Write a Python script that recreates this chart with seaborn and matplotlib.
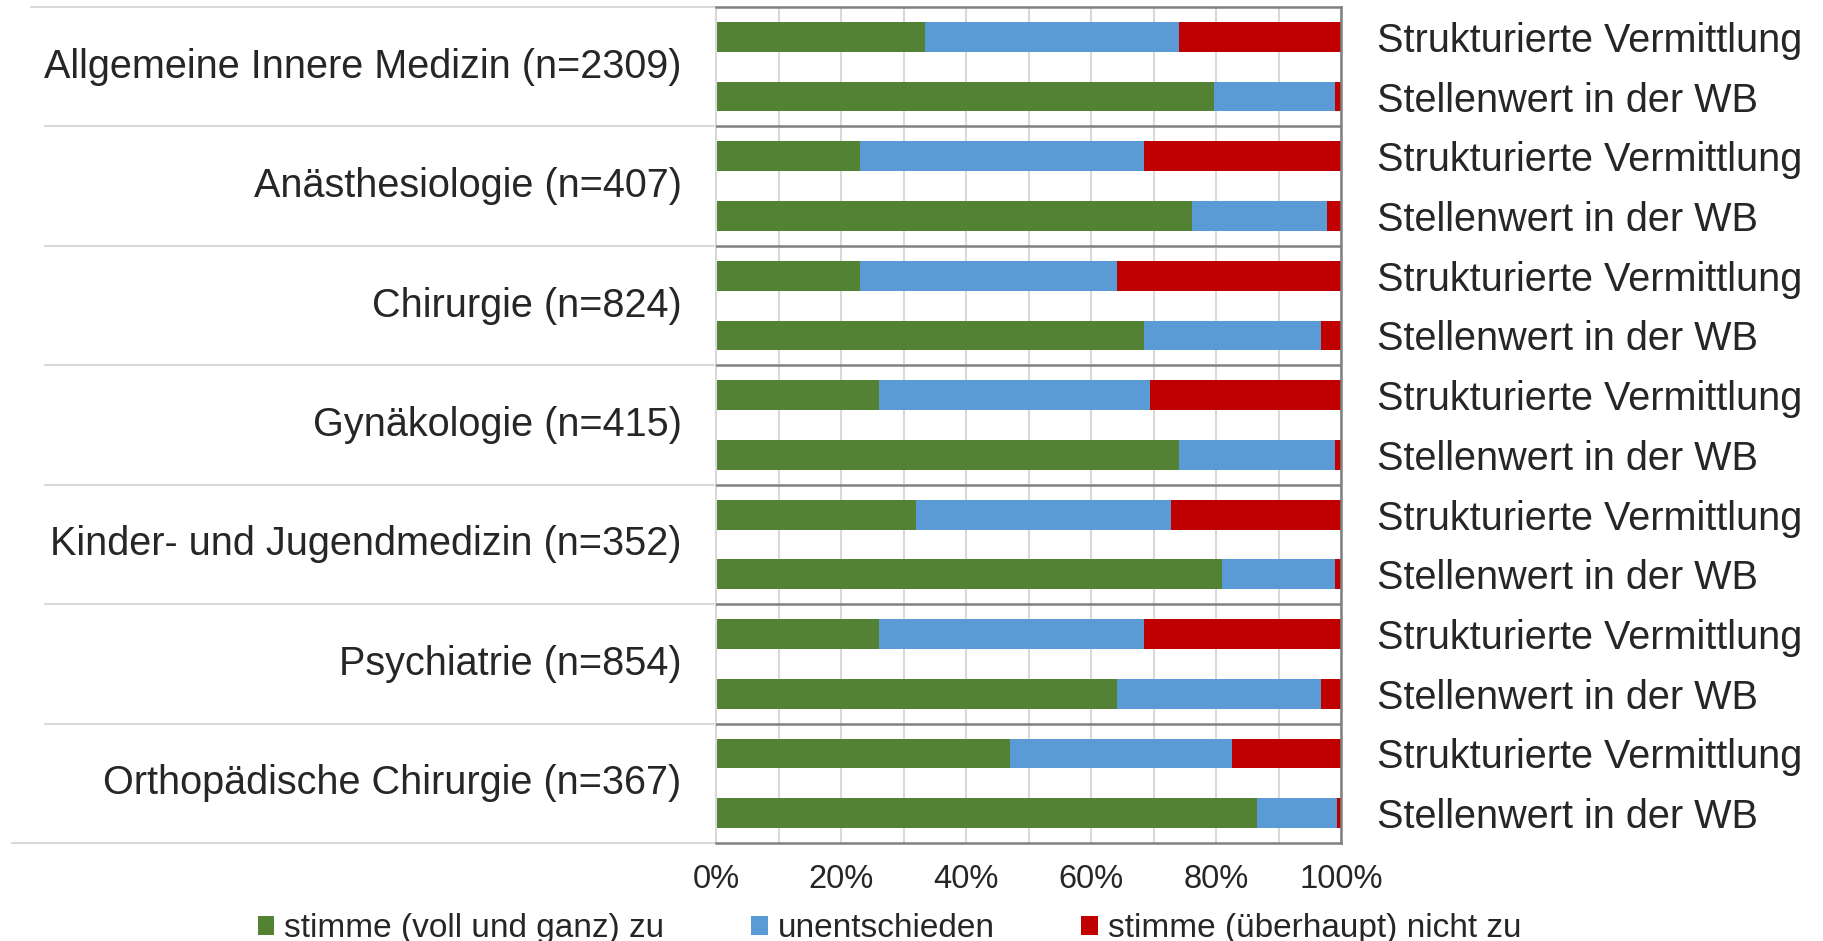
import numpy as np
import pandas as pd
import matplotlib
matplotlib.use("Agg")
import matplotlib.pyplot as plt
from matplotlib.patches import Patch
from matplotlib.lines import Line2D
import matplotlib.transforms as mtransforms
import seaborn as sns

# groups (left labels) and the two items per group (right labels)
groups = [
    "Allgemeine Innere Medizin (n=2309)",
    "Anästhesiologie (n=407)",
    "Chirurgie (n=824)",
    "Gynäkologie (n=415)",
    "Kinder- und Jugendmedizin (n=352)",
    "Psychiatrie (n=854)",
    "Orthopädische Chirurgie (n=367)",
]
items = ["Strukturierte Vermittlung", "Stellenwert in der WB"]

# percentages per bar, in order group1-SV, group1-SW, group2-SV, ...
agree = [33.4, 79.6, 23.0, 76.2, 23.0, 68.5, 26.0, 74.0, 32.0, 80.9, 26.0, 64.2, 47.0, 86.5]
neutral = [40.7, 19.4, 45.5, 21.5, 41.2, 28.3, 43.4, 25.0, 40.8, 18.1, 42.5, 32.6, 35.6, 12.8]
disagree = [25.9, 1.0, 31.5, 2.3, 35.8, 3.2, 30.6, 1.0, 27.2, 1.0, 31.5, 3.2, 17.4, 0.7]

legend_labels = ["stimme (voll und ganz) zu", "unentschieden", "stimme (überhaupt) nicht zu"]
colors = ["#548235", "#5B9BD5", "#C00000"]
xticks = [0, 20, 40, 60, 80, 100]

sns.set_style("white")
plt.rcParams['font.family'] = ['Liberation Sans', 'DejaVu Sans']

keys = [f"{g}_{i}" for g in range(len(groups)) for i in range(len(items))]
df = pd.DataFrame({
    'key': keys,
    'agree': agree,
    'neutral': neutral,
    'disagree': disagree,
})
df['c1'] = df['agree']
df['c2'] = df['agree'] + df['neutral']
df['c3'] = df['c2'] + df['disagree']

fig = plt.figure(figsize=(18.23, 9.41), dpi=100)
ax = fig.add_axes([716 / 1823, 1 - 843 / 941, 625 / 1823, 836 / 941])

# stacked bars drawn as overlapping cumulative bars
for col, c in zip(['c3', 'c2', 'c1'], colors[::-1]):
    sns.barplot(data=df, x=col, y='key', order=keys, color=c, orient='h',
                width=0.5, linewidth=0, saturation=1, ax=ax)

ax.set_xlim(0, 100)
ax.set_ylim(len(keys) - 0.5, -0.5)
ax.set_xlabel("")
ax.set_ylabel("")

# gridlines every 10 %, labels every 20 %
ax.set_xticks(xticks)
ax.set_xticklabels([f"{v}%" for v in xticks], fontsize=23.5)
ax.set_xticks(np.arange(10, 100, 20), minor=True)
ax.grid(axis='x', which='both', color='#d9d9d9', lw=1.5)
ax.set_axisbelow(True)
ax.tick_params(axis='x', which='both', length=0, pad=15)

# item labels on the right
ax.yaxis.tick_right()
ax.set_yticks(range(len(keys)))
ax.set_yticklabels(items * len(groups), fontsize=28.5)
ax.tick_params(axis='y', length=0, pad=26)

for side in ['top', 'right', 'bottom']:
    ax.spines[side].set_color('#808080')
    ax.spines[side].set_linewidth(1.8)
ax.spines['left'].set_color('#d9d9d9')
ax.spines['left'].set_linewidth(1.5)

# group separators
for k in range(1, len(groups)):
    ax.axhline(2 * k - 0.5, color='#808080', lw=1.8, zorder=3)

# group labels and category-axis lines on the left
trans = mtransforms.blended_transform_factory(ax.transAxes, ax.transData)
for k, g in enumerate(groups):
    ax.text(-0.055, 2 * k + 0.5, g, transform=trans, ha='right', va='center',
            fontsize=28.5)
for k in range(len(groups) + 1):
    y = 2 * k - 0.5
    x0 = -1.073
    if k == 0:
        x0 = -1.096
    elif k == len(groups):
        x0 = -1.126
    ax.add_line(Line2D([x0, -0.003], [y, y], transform=trans, color='#d9d9d9',
                       lw=1.5, clip_on=False))

handles = [Patch(facecolor=c, edgecolor='none') for c in colors]
fig.legend(handles, legend_labels, loc='center', bbox_to_anchor=(0.488, 0.013),
           ncol=3, frameon=False, fontsize=24, handlelength=0.5, handleheight=0.5,
           handletextpad=0.3, columnspacing=2.6)

fig.savefig("out.png", dpi=100)
